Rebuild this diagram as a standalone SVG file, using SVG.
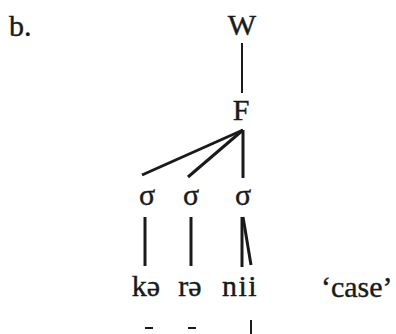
<svg xmlns="http://www.w3.org/2000/svg" width="396" height="334" viewBox="0 0 396 334">
<style>
text{font-family:'Liberation Serif','Times New Roman',Times,'DejaVu Serif',serif;font-size:30px;fill:#1a1a1a;stroke:#1a1a1a;stroke-width:0.4}
.m{text-anchor:middle}
.e{stroke:#1a1a1a;stroke-width:3;stroke-linecap:butt;fill:none}
.t{stroke:#1a1a1a;stroke-width:2;fill:none}
</style>
<rect width="396" height="334" fill="#fff"/>
<text x="9" y="36">b.</text>
<g id="connectors">
<line class="t" x1="242" y1="43" x2="242" y2="93"/>
<line class="e" x1="243" y1="130" x2="142" y2="175"/>
<line class="e" x1="243" y1="130" x2="188" y2="177"/>
<line class="e" x1="243" y1="130" x2="243" y2="178"/>
<line class="e" x1="145" y1="217" x2="145" y2="266"/>
<line class="e" x1="191" y1="217" x2="191" y2="266"/>
<line class="e" x1="242" y1="217" x2="242" y2="267"/>
<line class="e" x1="243" y1="217" x2="251" y2="265"/>
<line class="t" x1="145" y1="328" x2="153" y2="328"/>
<line class="t" x1="188" y1="328" x2="196" y2="328"/>
<line class="t" x1="251" y1="320" x2="251" y2="334"/>
</g>
<g id="W"><text class="m" x="242" y="35">W</text></g>
<g id="F"><text class="m" x="241" y="120">F</text></g>
<g id="s1"><text class="m" x="147" y="205">σ</text></g>
<g id="s2"><text class="m" x="191" y="205">σ</text></g>
<g id="s3"><text class="m" x="243" y="205">σ</text></g>
<g id="ke"><text class="m" x="146" y="296">kə</text></g>
<g id="re"><text class="m" x="190" y="296">rə</text></g>
<g id="nii"><text class="m" x="240" y="296" letter-spacing="1.5">nii</text></g>
<g id="gloss"><text x="321" y="297">‘case’</text></g>
</svg>
